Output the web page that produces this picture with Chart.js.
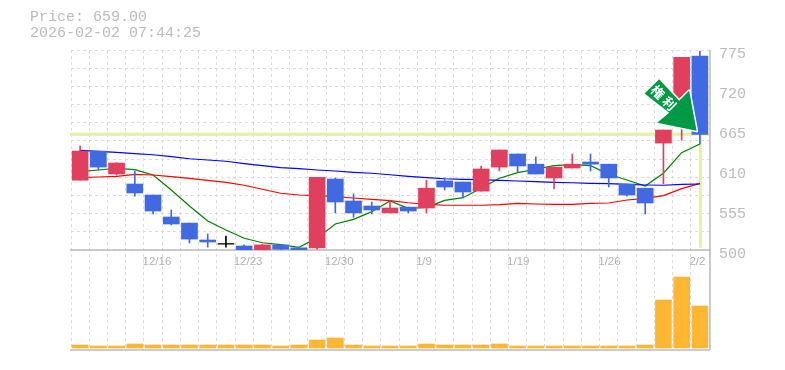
<!doctype html>
<html lang="ja">
<head>
<meta charset="utf-8">
<title>Price chart</title>
<script src="https://cdn.jsdelivr.net/npm/chart.js"></script>
<style>
  body { margin: 0; background: #fff; }
  #wrap { position: relative; width: 785px; height: 370px; }
  #head { position: absolute; left: 30px; top: 10px; font: 15px/16px "Liberation Mono", monospace; color: #bbb; white-space: pre; }
  canvas { position: absolute; left: 0; top: 0; }
</style>
</head>
<body>
<div id="wrap">
  <canvas id="chart" width="785" height="370"></canvas>
  <div id="head"></div>
</div>
<script>
const priceLabel = 'Price: 659.00';
const timeLabel = '2026-02-02 07:44:25';
const lastPrice = 659;
const markText = ['権', '利'];

const dates = ['12/10','12/11','12/12','12/15','12/16','12/17','12/18','12/19','12/22','12/23','12/24','12/25','12/26','12/29','12/30',
  '1/5','1/6','1/7','1/8','1/9','1/13','1/14','1/15','1/16','1/19','1/20','1/21','1/22','1/23','1/26','1/27','1/28','1/29','1/30','2/2'];
const tickDates = ['12/16','12/23','12/30','1/9','1/19','1/26','2/2'];

const opens  = [596,636,604.5,590.75,575.6,545.4,537,513.75,508,505.5,499,507,503,503,597.6,567.4,560.5,551,559,557.75,595,593.5,581,614,632,618,599,612.75,621,618,590.75,585,647,690,766.75];
const closes = [636,614,619.6,578.4,553.6,535.75,515,511,508,499,507,501,499,600,566,551,555,557.75,553.6,585,586.6,579.75,611.4,637.5,615.5,604.5,614,618,618,599,575.6,564.6,665,765,659];
const highs  = [643,636,620,608.6,575.6,555,537,522,519,507,508,507,503,600,599,577,566,568.75,559,596,599,593.5,615.5,637.5,632,628,614,632,632,618,590.75,585,665,765,773.6];
const lows   = [596,610,603,574,549.5,534.4,509.6,504,504,499,499,499,499,501,551,545,549.5,551,551,551,582.5,571.5,581,608.6,607,604.5,584,612.75,608.6,586.6,574,549.5,591,651,645.75];
const volumes = [300,200,200,400,300,300,300,300,300,300,300,200,300,800,1000,300,200,200,200,400,300,300,300,400,200,200,200,200,200,200,200,300,4800,7100,4200];

const maShort = [607.7,610,612.3,610.4,603.1,582.5,560.5,539.9,527.5,516.1,510,507.3,503.7,516.5,535.75,542.2,552.7,567.4,557.3,558.7,568.3,571.9,584.8,598.6,606.3,611,615.9,617.3,615.9,604.1,596.25,588,605.5,633.8,645.75];
const maMid = [599.4,600.4,601.3,604.1,603.1,600.8,598.6,595.8,593.1,589,583.5,578,575.6,574.7,573.3,571.5,569.7,567.8,565,562.8,561.5,561.5,561.5,562.3,564.2,563.25,562.8,562.8,564.2,564.6,568.75,571,574.7,584.3,591.7];
const maLong = [637.1,635.7,634.3,632.4,631,628.3,625.5,623.75,622,618.7,615.9,613.2,611.8,610,608.6,606.8,605.5,603.5,601.3,599.4,598,597.2,596.7,595.8,594.9,593.9,593.1,592.5,591.7,591.2,590.3,589.4,589,590.3,590.75];

const priceGridTicks = [500,525,550,575,600,625,650,675,700,725,750,775];
const priceLabelTicks = [500,555,610,665,720,775];

const RED = '#e0405e';
const BLUE = '#4169e1';
const GRID = '#dcdcdc';
const FRAME = '#bcbcbc';
const HILITE = '#e4f0a8';
const TEXT = '#bbbbbb';

document.getElementById('head').textContent = priceLabel + '\n' + timeLabel;

function candleColor(i) {
  if (closes[i] > opens[i]) return RED;
  if (closes[i] < opens[i]) return BLUE;
  return '#000000';
}
const colors = dates.map((d, i) => candleColor(i));

// panel frame and the current price crosshair, under the candles
const framePlugin = {
  id: 'frameLines',
  beforeDatasetsDraw(chart) {
    const { ctx, chartArea: a, scales } = chart;
    const py = scales.y.getPixelForValue(lastPrice);
    const px = scales.x.getPixelForValue(dates.length - 1);
    const left = a.left - 1, right = a.right + 1;
    ctx.save();
    ctx.strokeStyle = HILITE;
    ctx.lineWidth = 3;
    ctx.beginPath();
    ctx.moveTo(left, py);
    ctx.lineTo(right, py);
    ctx.moveTo(px + 0.5, py);
    ctx.lineTo(px + 0.5, scales.y.getPixelForValue(503));
    ctx.stroke();
    ctx.strokeStyle = FRAME;
    ctx.lineWidth = 1.5;
    ctx.beginPath();
    ctx.moveTo(left, scales.y.bottom);
    ctx.lineTo(right, scales.y.bottom);
    ctx.moveTo(left, a.bottom);
    ctx.lineTo(right, a.bottom);
    ctx.moveTo(right, a.top);
    ctx.lineTo(right, a.bottom);
    ctx.stroke();
    ctx.restore();
  }
};

// green marker arrow pointing at the last candle
const arrowPlugin = {
  id: 'markArrow',
  afterDatasetsDraw(chart) {
    const { ctx, scales } = chart;
    const tx = scales.x.getPixelForValue(dates.length - 1) - 3.3;
    const ty = scales.y.getPixelForValue(lastPrice) - 3.5;
    const shape = [[-37.4,-51.7],[-52,-37.4],[-27.4,-18],[-39.4,-8],[0,0],[-7.4,-40],[-17.4,-30]];
    ctx.save();
    ctx.translate(tx, ty);
    ctx.beginPath();
    shape.forEach((p, i) => i ? ctx.lineTo(p[0], p[1]) : ctx.moveTo(p[0], p[1]));
    ctx.closePath();
    ctx.lineJoin = 'round';
    ctx.strokeStyle = '#ffffff';
    ctx.lineWidth = 3;
    ctx.stroke();
    ctx.fillStyle = '#009944';
    ctx.fill();
    ctx.fillStyle = '#ffffff';
    ctx.font = 'bold 13px "Noto Sans CJK JP"';
    ctx.textAlign = 'center';
    ctx.textBaseline = 'middle';
    ctx.translate(-33, -33);
    ctx.rotate(Math.PI / 4);
    ctx.fillText(markText[0], -8, 0);
    ctx.fillText(markText[1], 8, 0);
    ctx.restore();
  }
};

function maDataset(data, color) {
  return { type: 'line', data: data, yAxisID: 'y', borderColor: color, borderWidth: 1.2, pointRadius: 0, tension: 0, order: 3 };
}

new Chart(document.getElementById('chart'), {
  data: {
    labels: dates,
    datasets: [
      { type: 'bar', data: volumes, yAxisID: 'yVol', backgroundColor: '#ffb733', barThickness: 16, grouped: false, order: 4 },
      maDataset(maLong, '#0000ff'),
      maDataset(maMid, '#ff0000'),
      maDataset(maShort, '#008000'),
      { type: 'bar', data: dates.map((d, i) => [lows[i], highs[i]]), yAxisID: 'y', backgroundColor: colors, barThickness: 1, grouped: false, order: 2 },
      { type: 'bar', data: dates.map((d, i) => [opens[i], closes[i] === opens[i] ? opens[i] + 0.9 : closes[i]]), yAxisID: 'y', backgroundColor: colors, barThickness: 16, grouped: false, order: 1 }
    ]
  },
  plugins: [framePlugin, arrowPlugin],
  options: {
    responsive: false,
    animation: false,
    layout: { padding: { left: 71, top: 50, right: 0, bottom: 20 } },
    plugins: { legend: { display: false }, tooltip: { enabled: false } },
    scales: {
      x: {
        position: { yVol: 9800 },
        grid: { color: GRID, offset: true, drawTicks: false },
        border: { display: false, dash: [3, 3] },
        ticks: {
          autoSkip: false, maxRotation: 0, padding: 5, color: '#b0b0b0',
          align: 'start', labelOffset: -10.5,
          font: { family: '"Liberation Sans"', size: 11.5 },
          callback(v) {
            const s = this.getLabelForValue(v);
            return tickDates.includes(s) ? s : '';
          }
        }
      },
      y: {
        position: 'right', stack: 'panels', stackWeight: 2, min: 500, max: 775,
        afterBuildTicks(scale) {
          scale.ticks = [...new Set(priceGridTicks.concat(priceLabelTicks))].map(v => ({ value: v }));
        },
        afterFit(scale) { scale.width = 76; },
        grid: {
          drawTicks: false,
          color: ctx => priceGridTicks.includes(ctx.tick.value) ? GRID : 'rgba(0,0,0,0)'
        },
        border: { display: false, dash: [3, 3] },
        ticks: {
          padding: 10, labelOffset: 4, color: TEXT, autoSkip: false,
          font: { family: '"Liberation Mono"', size: 15 },
          callback: v => priceLabelTicks.includes(v) ? String(v) : ''
        }
      },
      yVol: {
        position: 'right', stack: 'panels', stackWeight: 1, min: -200, max: 9800,
        afterFit(scale) { scale.width = 76; },
        grid: { display: false },
        border: { display: false },
        ticks: { display: false }
      }
    }
  }
});
</script>
</body>
</html>
